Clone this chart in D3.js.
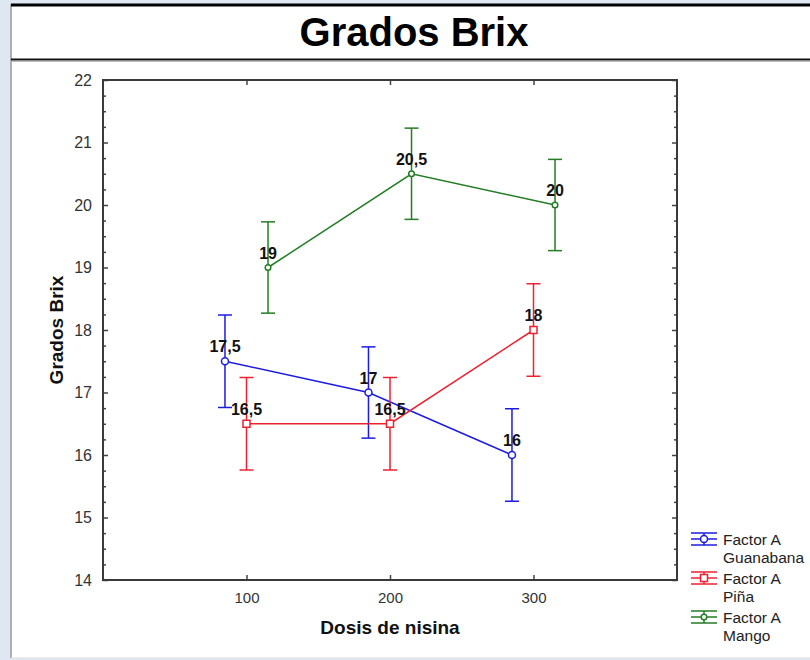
<!DOCTYPE html>
<html>
<head>
<meta charset="utf-8">
<script src="https://cdn.jsdelivr.net/npm/d3@7"></script>
<style>
  html, body { margin: 0; padding: 0; background: #dfe7f3; }
  svg { display: block; }
</style>
</head>
<body>
<svg id="chart" width="810" height="660"></svg>
<script>
// dosis de nisina (x) y grados Brix medios por factor A
const doses = [100, 200, 300]
const guanabana = [17.5, 17, 16]
const pina = [16.5, 16.5, 18]
const mango = [19, 20.5, 20]
const errGuanabana = [0.74, 0.73, 0.74]
const errPina = [0.74, 0.74, 0.74]
const errMango = [0.73, 0.73, 0.73]
const valueLabels = {
  guanabana: ['17,5', '17', '16'],
  pina: ['16,5', '16,5', '18'],
  mango: ['19', '20,5', '20']
}
const yTicks = [14, 15, 16, 17, 18, 19, 20, 21, 22]
const xTicks = [100, 200, 300]

const series = [
  { key: 'guanabana', name: ['Factor A', 'Guanabana'], values: guanabana, err: errGuanabana, shift: -15, color: '#1c1ce0', marker: 'circle' },
  { key: 'pina', name: ['Factor A', 'Piña'], values: pina, err: errPina, shift: 0, color: '#ec2230', marker: 'square' },
  { key: 'mango', name: ['Factor A', 'Mango'], values: mango, err: errMango, shift: 15, color: '#237d23', marker: 'dot' }
]

const svg = d3.select('#chart')

// panel blanco y marco del título
svg.append('rect').attr('x', 11).attr('y', 4).attr('width', 799).attr('height', 654).attr('fill', '#fff')
svg.append('line').attr('x1', 11).attr('x2', 11).attr('y1', 4).attr('y2', 658).attr('stroke', '#999').attr('stroke-width', 1.5)
svg.append('line').attr('x1', 11).attr('x2', 810).attr('y1', 5).attr('y2', 5).attr('stroke', '#000').attr('stroke-width', 3)
svg.append('line').attr('x1', 11).attr('x2', 810).attr('y1', 59.5).attr('y2', 59.5).attr('stroke', '#111').attr('stroke-width', 2)
svg.append('line').attr('x1', 11).attr('x2', 810).attr('y1', 61.5).attr('y2', 61.5).attr('stroke', '#bbb').attr('stroke-width', 1)
svg.append('line').attr('x1', 11).attr('x2', 810).attr('y1', 658).attr('y2', 658).attr('stroke', '#ddd').attr('stroke-width', 1)

svg.append('text')
  .attr('x', 414).attr('y', 46)
  .attr('text-anchor', 'middle')
  .attr('font-family', 'Liberation Sans, Arial, sans-serif')
  .attr('font-weight', 'bold')
  .attr('font-size', 40)
  .attr('fill', '#000')
  .text('Grados Brix')

const plot = { left: 103, right: 677, top: 80, bottom: 580 }

const x = d3.scaleLinear().domain([0, 400]).range([plot.left, plot.right])
const y = d3.scaleLinear().domain([14, 22]).range([plot.bottom, plot.top])

const minorY = d3.range(14, 22.001, 0.25).filter(v => !yTicks.includes(v))

const axisFont = g => g.selectAll('text')
  .attr('font-family', 'Liberation Sans, Arial, sans-serif')
  .attr('font-size', 15)
  .attr('fill', '#333')

// eje Y izquierdo
const yAxis = svg.append('g')
  .attr('transform', `translate(${plot.left},0)`)
  .call(d3.axisLeft(y).tickValues(yTicks).tickSize(-5).tickPadding(11).tickFormat(d3.format('d')))
yAxis.select('.domain').remove()
yAxis.selectAll('line').attr('stroke', '#444').attr('stroke-width', 1.5)
yAxis.call(axisFont).selectAll('text').attr('font-size', 16)

svg.append('g')
  .attr('transform', `translate(${plot.left},0)`)
  .call(d3.axisLeft(y).tickValues(minorY).tickSize(-3).tickFormat(''))
  .call(g => g.select('.domain').remove())
  .selectAll('line').attr('stroke', '#444').attr('stroke-width', 1.5)

// eje Y derecho
svg.append('g')
  .attr('transform', `translate(${plot.right},0)`)
  .call(d3.axisRight(y).tickValues(yTicks).tickSize(-5).tickFormat(''))
  .call(g => g.select('.domain').remove())
  .selectAll('line').attr('stroke', '#444').attr('stroke-width', 1.5)
svg.append('g')
  .attr('transform', `translate(${plot.right},0)`)
  .call(d3.axisRight(y).tickValues(minorY).tickSize(-3).tickFormat(''))
  .call(g => g.select('.domain').remove())
  .selectAll('line').attr('stroke', '#444').attr('stroke-width', 1.5)

// eje X
const xAxis = svg.append('g')
  .attr('transform', `translate(0,${plot.bottom})`)
  .call(d3.axisBottom(x).tickValues(xTicks).tickSize(-5).tickPadding(12).tickFormat(d3.format('d')))
xAxis.select('.domain').remove()
xAxis.selectAll('line').attr('stroke', '#444').attr('stroke-width', 1.5)
xAxis.call(axisFont)

svg.append('g')
  .attr('transform', `translate(0,${plot.top})`)
  .call(d3.axisTop(x).tickValues(xTicks).tickSize(-5).tickFormat(''))
  .call(g => g.select('.domain').remove())
  .selectAll('line').attr('stroke', '#444').attr('stroke-width', 1.5)

// marco del gráfico
svg.append('rect')
  .attr('x', plot.left).attr('y', plot.top)
  .attr('width', plot.right - plot.left).attr('height', plot.bottom - plot.top)
  .attr('fill', 'none').attr('stroke', '#3a3a3a').attr('stroke-width', 2)

// títulos de ejes
svg.append('text')
  .attr('x', 390).attr('y', 634)
  .attr('text-anchor', 'middle')
  .attr('font-family', 'Liberation Sans, Arial, sans-serif')
  .attr('font-weight', 'bold').attr('font-size', 19).attr('fill', '#111')
  .text('Dosis de nisina')

svg.append('text')
  .attr('transform', 'translate(63,330) rotate(-90)')
  .attr('text-anchor', 'middle')
  .attr('font-family', 'Liberation Sans, Arial, sans-serif')
  .attr('font-weight', 'bold').attr('font-size', 19).attr('fill', '#111')
  .text('Grados Brix')

const drawMarker = (g, s, cx, cy) => {
  if (s.marker === 'square') {
    g.append('rect').attr('x', cx - 3.5).attr('y', cy - 3.5).attr('width', 7).attr('height', 7)
      .attr('fill', '#fff').attr('stroke', s.color).attr('stroke-width', 1.5)
  } else {
    g.append('circle').attr('cx', cx).attr('cy', cy).attr('r', s.marker === 'dot' ? 2.8 : 3.5)
      .attr('fill', '#fff').attr('stroke', s.color).attr('stroke-width', 1.5)
  }
}

const line = d3.line().x(d => x(d.dose)).y(d => y(d.v))

series.forEach(s => {
  const pts = doses.map((d, i) => ({ dose: d + s.shift, v: s.values[i], e: s.err[i], label: valueLabels[s.key][i] }))
  const g = svg.append('g')

  g.append('path').datum(pts).attr('d', line)
    .attr('fill', 'none').attr('stroke', s.color).attr('stroke-width', 1.5)

  const bars = g.selectAll('.err').data(pts).enter().append('g').attr('class', 'err')
  bars.append('line')
    .attr('x1', d => x(d.dose)).attr('x2', d => x(d.dose))
    .attr('y1', d => y(d.v + d.e)).attr('y2', d => y(d.v - d.e))
    .attr('stroke', s.color).attr('stroke-width', 1.5)
  bars.append('line')
    .attr('x1', d => x(d.dose) - 7).attr('x2', d => x(d.dose) + 7)
    .attr('y1', d => y(d.v + d.e)).attr('y2', d => y(d.v + d.e))
    .attr('stroke', s.color).attr('stroke-width', 1.5)
  bars.append('line')
    .attr('x1', d => x(d.dose) - 7).attr('x2', d => x(d.dose) + 7)
    .attr('y1', d => y(d.v - d.e)).attr('y2', d => y(d.v - d.e))
    .attr('stroke', s.color).attr('stroke-width', 1.5)

  pts.forEach(p => drawMarker(g, s, x(p.dose), y(p.v)))

  g.selectAll('.lbl').data(pts).enter().append('text')
    .attr('x', d => x(d.dose)).attr('y', d => y(d.v) - 9)
    .attr('text-anchor', 'middle')
    .attr('font-family', 'Liberation Sans, Arial, sans-serif')
    .attr('font-weight', 'bold').attr('font-size', 16).attr('fill', '#111')
    .text(d => d.label)
})

// leyenda
const legend = svg.append('g')
series.forEach((s, i) => {
  const cy = 539 + i * 39
  const g = legend.append('g')
  const x0 = 691, x1 = 717, xc = 704
  ;[-6, 0, 6].forEach(dy => {
    g.append('line').attr('x1', x0).attr('x2', x1).attr('y1', cy + dy).attr('y2', cy + dy)
      .attr('stroke', s.color).attr('stroke-width', 1.5)
  })
  g.append('line').attr('x1', xc).attr('x2', xc).attr('y1', cy - 6).attr('y2', cy + 6)
    .attr('stroke', s.color).attr('stroke-width', 1.5)
  drawMarker(g, s, xc, cy)
  s.name.forEach((t, j) => {
    g.append('text')
      .attr('x', 723).attr('y', cy + 6 + j * 18)
      .attr('font-family', 'Liberation Sans, Arial, sans-serif')
      .attr('font-size', 15.5).attr('fill', '#222')
      .text(t)
  })
})
</script>
</body>
</html>
